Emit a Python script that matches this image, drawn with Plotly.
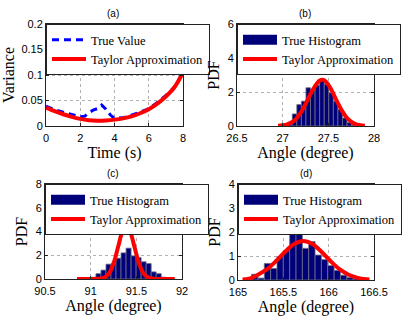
import plotly.graph_objects as go

# ---------------- data ----------------
# (a) variance over time
time_true = [0, 0.5, 1, 1.5, 2, 2.25, 2.5, 2.75, 3, 3.25, 3.5, 3.75, 4, 4.5, 5, 5.5, 6, 6.5, 7, 7.5, 7.75, 8]
var_true = [0.039, 0.032, 0.027, 0.022, 0.018, 0.019, 0.026, 0.031, 0.034, 0.041, 0.033, 0.022,
            0.015, 0.016, 0.021, 0.027, 0.034, 0.046, 0.060, 0.076, 0.090, 0.108]
time_taylor = [0, 0.5, 1, 1.5, 2, 2.5, 3, 3.5, 4, 4.5, 5, 5.5, 6, 6.5, 7, 7.5, 8]
var_taylor = [0.036, 0.029, 0.023, 0.018, 0.014, 0.0115, 0.0105, 0.011, 0.0125, 0.015, 0.019,
              0.025, 0.033, 0.044, 0.058, 0.076, 0.105]

# (b) angle histogram ~27.4 deg
b_centers = [27.03, 27.08, 27.13, 27.18, 27.23, 27.28, 27.33, 27.38, 27.43, 27.48, 27.53,
             27.58, 27.63, 27.68, 27.73, 27.78]
b_pdf = [0.05, 0.22, 0.71, 1.26, 1.46, 2.25, 2.1, 2.4, 2.72, 2.45, 1.95, 1.46, 0.97, 0.47, 0.2, 0.05]
b_curve_x = [26.95, 27.0, 27.05, 27.1, 27.15, 27.2, 27.25, 27.3, 27.35, 27.4, 27.43, 27.45, 27.5,
             27.55, 27.6, 27.65, 27.7, 27.75, 27.8, 27.85, 27.9]
b_curve_y = [0.01, 0.04, 0.1, 0.22, 0.44, 0.8, 1.28, 1.84, 2.3, 2.65, 2.72, 2.7, 2.43, 1.95,
             1.39, 0.89, 0.5, 0.25, 0.11, 0.05, 0.02]

# (c) angle histogram ~91.4 deg
c_centers = [91.03, 91.085, 91.14, 91.195, 91.25, 91.305, 91.36, 91.415, 91.47, 91.525, 91.58,
             91.635, 91.69, 91.745, 91.80, 91.855]
c_pdf = [0.15, 0.45, 0.75, 1.25, 1.28, 1.75, 2.2, 2.6, 1.95, 1.8, 1.45, 1.3, 0.6, 0.45, 0.15, 0.08]
c_curve_x = [90.85, 90.95, 91.05, 91.1, 91.15, 91.2, 91.25, 91.3, 91.35, 91.39, 91.43, 91.48,
             91.53, 91.58, 91.63, 91.7, 91.8, 91.92]
c_curve_y = [0.0, 0.0, 0.01, 0.03, 0.12, 0.46, 1.3, 2.69, 4.05, 4.48, 4.05, 2.69, 1.3, 0.46,
             0.12, 0.01, 0.0, 0.0]

# (d) angle histogram ~165.7 deg
d_centers = [165.115, 165.185, 165.255, 165.325, 165.395, 165.465, 165.535, 165.605, 165.675,
             165.745, 165.815, 165.885, 165.955, 166.025, 166.095, 166.165, 166.235, 166.305, 166.375]
d_pdf = [0.03, 0.24, 0.08, 0.69, 0.48, 0.97, 1.22, 1.96, 2.09, 1.32, 1.6, 1.04, 0.85, 0.6,
         0.4, 0.2, 0.1, 0.05, 0.02]
d_curve_x = [165.05, 165.12, 165.22, 165.32, 165.42, 165.52, 165.62, 165.72, 165.82, 165.92,
             166.02, 166.12, 166.22, 166.32, 166.42, 166.45]
d_curve_y = [0.02, 0.05, 0.22, 0.45, 0.79, 1.18, 1.5, 1.62, 1.5, 1.18, 0.79, 0.45, 0.22, 0.09,
             0.03, 0.02]

# axis ticks
a_xticks = [0, 2, 4, 6, 8]
a_yticks = [0, 0.05, 0.1, 0.15, 0.2]
a_ytext = ["0", "0.05", "0.1", "0.15", "0.2"]
b_xticks = [26.5, 27, 27.5, 28]
b_yticks = [0, 2, 4, 6]
c_xticks = [90.5, 91, 91.5, 92]
c_yticks = [0, 2, 4, 6, 8]
d_xticks = [165, 165.5, 166, 166.5]
d_yticks = [0, 1, 2, 3, 4]

# ---------------- styling ----------------
W, H = 409, 327
NAVY = "#00007a"
BAR_EDGE = "#6e6e80"
RED = "#ff0000"
BLUE = "#0000ff"
SERIF = "Liberation Serif, Times New Roman, serif"
SANS = "Liberation Sans, Arial, sans-serif"


def dx(a, b):
    return [a / W, b / W]


def dy(top, bottom):
    return [1 - bottom / H, 1 - top / H]


fig = go.Figure()

# (a)
fig.add_trace(go.Scatter(x=time_true, y=var_true, mode="lines", name="True Value",
                         line=dict(color=BLUE, width=3, dash="7px,5px"),
                         xaxis="x", yaxis="y", legend="legend"))
fig.add_trace(go.Scatter(x=time_taylor, y=var_taylor, mode="lines", name="Taylor Approximation",
                         line=dict(color=RED, width=4, shape="spline"),
                         xaxis="x", yaxis="y", legend="legend"))


def hist_panel(ax, leg, centers, pdf, width, cx, cy):
    fig.add_trace(go.Bar(x=centers, y=pdf, width=width, marker=dict(color=NAVY,
                         line=dict(color=BAR_EDGE, width=0.8)),
                         showlegend=False, xaxis="x" + ax, yaxis="y" + ax))
    fig.add_trace(go.Scatter(x=[None], y=[None], mode="lines", name="True Histogram",
                             line=dict(color=NAVY, width=10),
                             xaxis="x" + ax, yaxis="y" + ax, legend=leg))
    fig.add_trace(go.Scatter(x=cx, y=cy, mode="lines", name="Taylor Approximation",
                             line=dict(color=RED, width=4, shape="spline"),
                             xaxis="x" + ax, yaxis="y" + ax, legend=leg))


hist_panel("2", "legend2", b_centers, b_pdf, 0.05, b_curve_x, b_curve_y)
hist_panel("3", "legend3", c_centers, c_pdf, 0.055, c_curve_x, c_curve_y)
hist_panel("4", "legend4", d_centers, d_pdf, 0.07, d_curve_x, d_curve_y)

axis_common = dict(showline=True, linecolor="#222", linewidth=1, mirror="ticks",
                   ticks="inside", ticklen=3, tickcolor="#222", zeroline=False,
                   showgrid=True, gridcolor="#b0b0b0", griddash="dot", gridwidth=1,
                   automargin=False,
                   tickfont=dict(family=SANS, size=11, color="black"),
                   title_font=dict(family=SERIF, size=16, color="black"))


def xa(domain, anchor, rng, ticks, title):
    d = dict(axis_common)
    d.update(domain=domain, anchor=anchor, range=rng, tickvals=ticks,
             ticktext=[("%g" % t) for t in ticks], ticklabelstandoff=2,
             title=dict(text=title, standoff=1))
    return d


def ya(domain, anchor, rng, ticks, text, title):
    d = dict(axis_common)
    d.update(domain=domain, anchor=anchor, range=rng, tickvals=ticks,
             ticktext=text, title=dict(text=title, standoff=4))
    return d


legend_common = dict(bgcolor="white", bordercolor="#222", borderwidth=1,
                     font=dict(family=SERIF, size=12.5, color="black"),
                     xanchor="left", yanchor="top", tracegroupgap=0,
                     itemwidth=34)

fig.update_layout(
    width=W, height=H, margin=dict(l=0, r=0, t=0, b=0, autoexpand=False),
    paper_bgcolor="white", plot_bgcolor="white", barmode="overlay",
    xaxis=xa(dx(46, 183), "y", [0, 8], a_xticks, "Time (s)"),
    yaxis=ya(dy(24, 126), "x", [0, 0.2], a_yticks, a_ytext, "Variance"),
    xaxis2=xa(dx(237, 374), "y2", [26.5, 28], b_xticks, "Angle (degree)"),
    yaxis2=ya(dy(24, 126), "x2", [0, 6], b_yticks, [str(t) for t in b_yticks], "PDF"),
    xaxis3=xa(dx(45, 182), "y3", [90.5, 92], c_xticks, "Angle (degree)"),
    yaxis3=ya(dy(184, 279), "x3", [0, 8], c_yticks, [str(t) for t in c_yticks], "PDF"),
    xaxis4=xa(dx(238, 374), "y4", [165, 166.5], d_xticks, "Angle (degree)"),
    yaxis4=ya(dy(184, 280), "x4", [0, 4], d_yticks, [str(t) for t in d_yticks], "PDF"),
    legend=dict(legend_common, x=46 / W, y=1 - 24 / H),
    legend2=dict(legend_common, x=237 / W, y=1 - 24 / H),
    legend3=dict(legend_common, x=45 / W, y=1 - 184 / H),
    legend4=dict(legend_common, x=238 / W, y=1 - 184 / H),
)

for label, cx, cy in [("(a)", 113, 13), ("(b)", 305, 13), ("(c)", 113, 173), ("(d)", 306, 173)]:
    fig.add_annotation(text=label, x=cx / W, y=1 - cy / H, xref="paper", yref="paper",
                       showarrow=False, font=dict(family=SANS, size=10, color="black"),
                       xanchor="center", yanchor="middle")

fig.write_html("out.html", config={"displayModeBar": False},
               post_script="document.body.style.margin='0';")
